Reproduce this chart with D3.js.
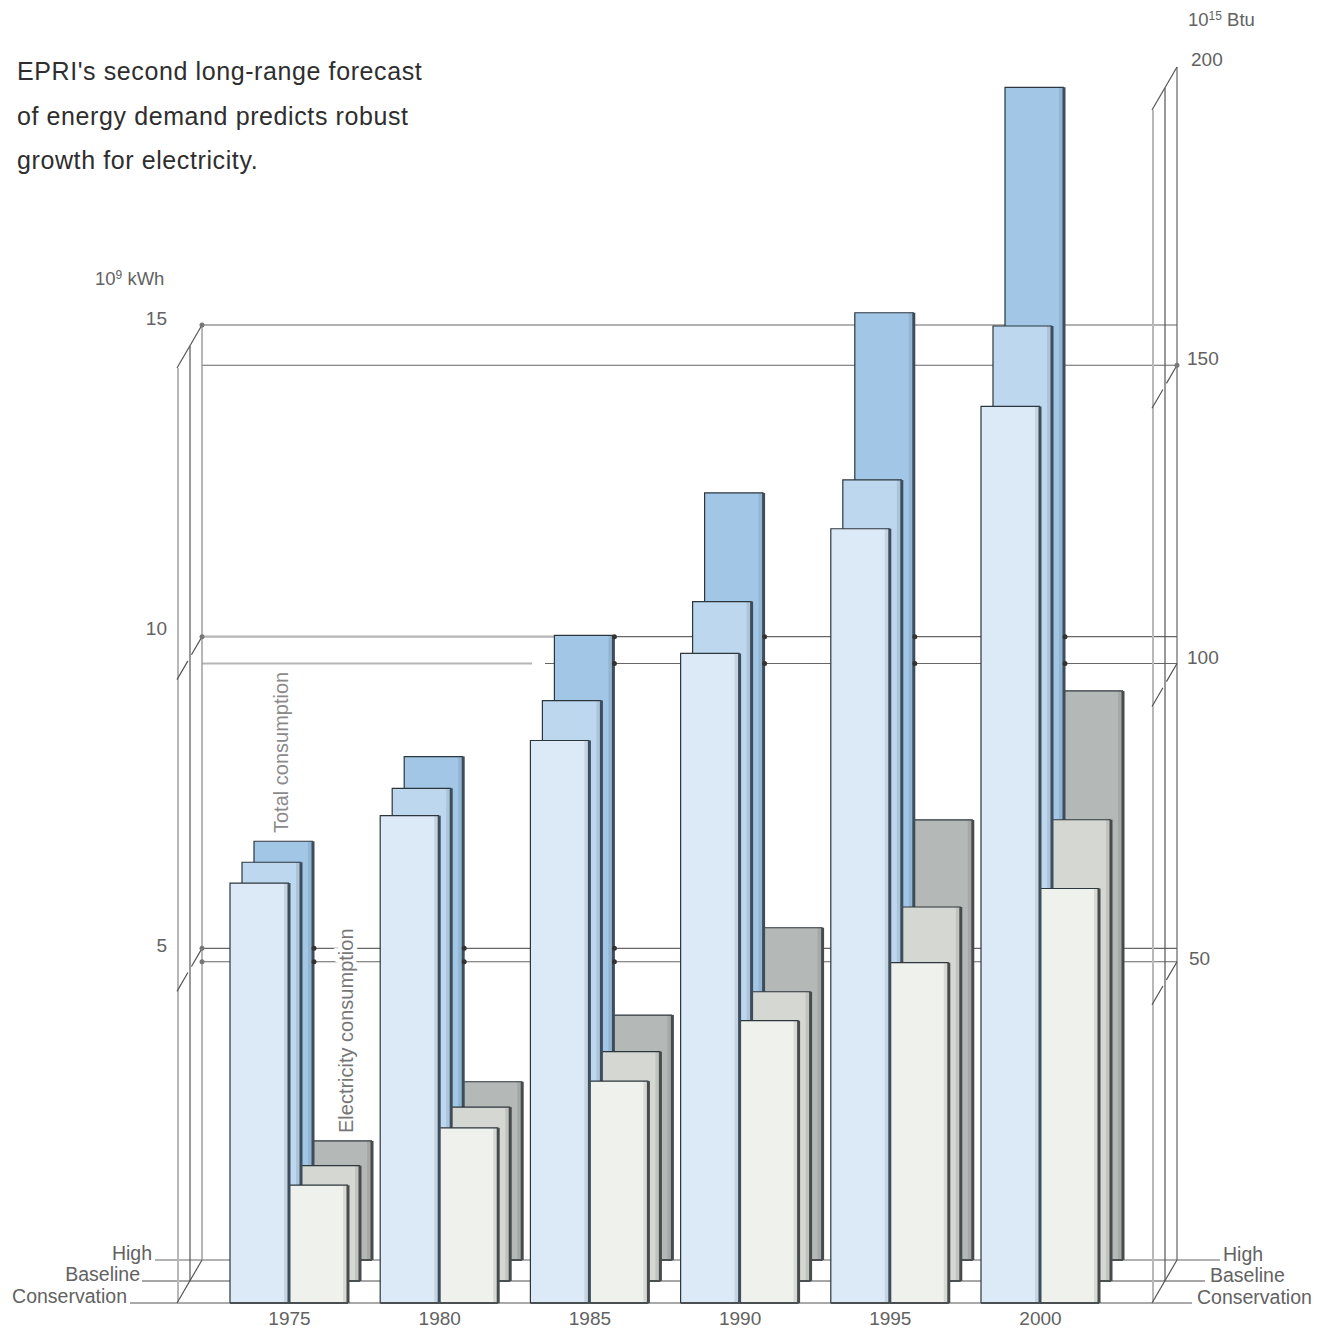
<!DOCTYPE html>
<html>
<head>
<meta charset="utf-8">
<script src="https://cdn.jsdelivr.net/npm/d3@7"></script>
<style>
  body { margin: 0; background: #fff; }
  text { font-family: "Liberation Sans", sans-serif; }
  .domain { display: none; }
</style>
</head>
<body>
<svg id="mainsvg" width="1330" height="1330"></svg>
<script>
// values
const years = ['1975', '1980', '1985', '1990', '1995', '2000'];
const scenarios = ['High', 'Baseline', 'Conservation'];

// total consumption, 10^15 Btu
const totalHigh = [70.2, 84.4, 104.7, 128.6, 158.8, 196.6];
const totalBaseline = [70.2, 82.6, 97.3, 113.9, 134.3, 160.1];
const totalConservation = [70.4, 81.7, 94.3, 108.9, 129.8, 150.3];

// electricity consumption, 10^9 kWh
const elecHigh = [1.91, 2.86, 3.93, 5.33, 7.06, 9.13];
const elecBaseline = [1.85, 2.79, 3.68, 4.64, 6.0, 7.4];
const elecConservation = [1.89, 2.81, 3.56, 4.53, 5.46, 6.65];

const kwhTicks = [5, 10, 15];
const btuTicks = [50, 100, 150, 200];

const titleLines = [
  "EPRI's second long-range forecast",
  'of energy demand predicts robust',
  'growth for electricity.',
];

const svg = d3.select('#mainsvg');

const barWidth = 59;
const floorY = 1260;
// each scenario sits on its own plane, shifted towards the viewer
const planes = [
  { dx: 0, dy: 0, total: totalHigh, elec: elecHigh, totalFill: '#a1c6e6', elecFill: '#b4b8b6', lineColor: '#999', lineWidth: 1.6, leftEnd: 155, rightEnd: 1220, labelLeft: 152, labelRight: 1223 },
  { dx: -12, dy: 21, total: totalBaseline, elec: elecBaseline, totalFill: '#bdd8ee', elecFill: '#d5d7d2', lineColor: '#888', lineWidth: 1.4, leftEnd: 142, rightEnd: 1205, labelLeft: 140, labelRight: 1210 },
  { dx: -24, dy: 43, total: totalConservation, elec: elecConservation, totalFill: '#dce9f6', elecFill: '#eff1ec', lineColor: '#555', lineWidth: 1.2, leftEnd: 130, rightEnd: 1192, labelLeft: 127, labelRight: 1197 },
];

const x = d3.scalePoint().domain(years).range([313, 1064]);
const yKwh = d3.scaleLinear().domain([0, 15]).range([floorY, 325]);
const yBtu = d3.scaleLinear().domain([0, 200]).range([floorY, 67]);

// grid lines on the back plane, axis frames left and right
const grid = svg.append('g').attr('id', 'grid');
const gridLeft = 202;
const gridRight = 1177;

function gridLine(y, x1, x2, color, width) {
  grid.append('line')
    .attr('x1', x1).attr('x2', x2)
    .attr('y1', y).attr('y2', y)
    .attr('stroke', color)
    .attr('stroke-width', width);
}

kwhTicks.forEach(v => {
  const y = yKwh(v);
  if (v === 10) {
    gridLine(y, gridLeft, 556, '#b5b5b5', 2.2);
    gridLine(y, 556, gridRight, '#666', 1.2);
  } else {
    gridLine(y, gridLeft, gridRight, '#666', 1.2);
  }
});
btuTicks.filter(v => v < 200).forEach(v => {
  const y = yBtu(v);
  if (v === 100) {
    gridLine(y, gridLeft, 532, '#b5b5b5', 2.2);
    gridLine(y, 545, gridRight, '#666', 1.2);
  } else {
    gridLine(y, gridLeft, gridRight, '#666', 1.2);
  }
});

// scenario base lines
planes.forEach(p => {
  gridLine(floorY + p.dy, p.leftEnd, p.rightEnd, p.lineColor, p.lineWidth);
});

// the three planes of both axis frames, back to front
function frame(backX, ticksY, topY, styles) {
  const f = svg.append('g');
  planes.forEach((p, i) => {
    f.append('line')
      .attr('x1', backX + p.dx).attr('x2', backX + p.dx)
      .attr('y1', topY + p.dy).attr('y2', floorY + p.dy)
      .attr('stroke', styles[i].color)
      .attr('stroke-width', styles[i].width);
  });
  ticksY.concat([floorY]).forEach(y => {
    f.append('line')
      .attr('x1', backX).attr('x2', backX - 25)
      .attr('y1', y).attr('y2', y + 43)
      .attr('stroke', '#555')
      .attr('stroke-width', 1.2)
      .attr('stroke-dasharray', y === topY || y === floorY ? null : '21 7 30');
  });
}
frame(gridLeft, kwhTicks.map(yKwh), yKwh(15), [
  { color: '#999', width: 1.4 }, { color: '#555', width: 1.2 }, { color: '#b8b8b8', width: 2 },
]);
frame(gridRight, btuTicks.map(yBtu), yBtu(200), [
  { color: '#666', width: 1.2 }, { color: '#555', width: 1.2 }, { color: '#b8b8b8', width: 2 },
]);

// bars, back plane first
const bars = svg.append('g').attr('id', 'bars');

function drawBar(left, top, bottom, fill, sideColor) {
  bars.append('rect')
    .attr('x', left).attr('y', top)
    .attr('width', barWidth).attr('height', bottom - top)
    .attr('fill', fill);
  // soft shading that the print leaves beside the right edge
  bars.append('line')
    .attr('x1', left + barWidth - 2).attr('x2', left + barWidth - 2)
    .attr('y1', top).attr('y2', bottom)
    .attr('stroke', sideColor)
    .attr('stroke-opacity', 0.14)
    .attr('stroke-width', 6);
  bars.append('path')
    .attr('d', `M${left},${bottom}V${top}H${left + barWidth}`)
    .attr('fill', 'none')
    .attr('stroke', '#2c363d')
    .attr('stroke-width', 1.2);
  bars.append('line')
    .attr('x1', left + barWidth).attr('x2', left + barWidth)
    .attr('y1', top).attr('y2', bottom)
    .attr('stroke', sideColor)
    .attr('stroke-width', 3);
  bars.append('line')
    .attr('x1', left).attr('x2', left + barWidth)
    .attr('y1', bottom).attr('y2', bottom)
    .attr('stroke', '#4a4f52')
    .attr('stroke-width', 2);
}

planes.forEach(p => {
  const bottom = floorY + p.dy;
  years.forEach((year, i) => {
    const split = x(year) + p.dx;
    drawBar(split, yKwh(p.elec[i]) + p.dy, bottom, p.elecFill, '#474b4b');
    drawBar(split - barWidth, yBtu(p.total[i]) + p.dy, bottom, p.totalFill, '#3d4d5c');
  });
});

// ink blobs where a lower grid line meets the right side of a high bar
const gridYs = [yKwh(5), yKwh(10), yBtu(50), yBtu(100)];
years.forEach((year, i) => {
  gridYs.forEach(y => {
    if (yBtu(totalHigh[i]) < y && yKwh(elecHigh[i]) > y) {
      svg.append('circle')
        .attr('cx', x(year) + 1).attr('cy', y).attr('r', 2.5)
        .attr('fill', '#333');
    }
  });
});
[yKwh(15), yKwh(10), yKwh(5), yBtu(50)].forEach(y => {
  svg.append('circle').attr('cx', gridLeft).attr('cy', y).attr('r', 2.5).attr('fill', '#777');
});
svg.append('circle').attr('cx', gridRight).attr('cy', yBtu(150)).attr('r', 2.5).attr('fill', '#777');

// axes
const tickColor = '#626262';
const tickNudge = { 5: 3, 10: -2, 15: -1, 50: 3, 150: -1, 200: -2 };
function styleAxis(g) {
  g.selectAll('.tick line').remove();
  g.selectAll('text')
    .attr('fill', tickColor)
    .attr('y', d => tickNudge[d] || 0)
    .style('font-size', '19px');
}

svg.append('g')
  .attr('transform', 'translate(167,-6)')
  .call(d3.axisLeft(yKwh).tickValues(kwhTicks).tickSize(0).tickPadding(0))
  .call(styleAxis);

svg.append('g')
  .attr('transform', 'translate(1187,-6)')
  .call(d3.axisRight(yBtu).tickValues(btuTicks).tickSize(0).tickPadding(0))
  .call(styleAxis)
  .call(g => g.selectAll('text').attr('x', d => (d === 200 ? 4 : d === 50 ? 2 : 0)));

svg.append('g')
  .attr('transform', 'translate(-24,1303)')
  .call(d3.axisBottom(x).tickSize(0).tickPadding(9))
  .call(g => {
    g.selectAll('.tick line').remove();
    g.selectAll('text').attr('fill', tickColor).style('font-size', '19px');
  });

// scenario labels either side
planes.forEach((p, i) => {
  svg.append('text')
    .attr('x', p.labelLeft).attr('y', floorY + p.dy)
    .attr('text-anchor', 'end')
    .attr('fill', tickColor)
    .style('font-size', '19.5px')
    .text(scenarios[i]);
  svg.append('text')
    .attr('x', p.labelRight).attr('y', floorY + p.dy + 1)
    .attr('fill', tickColor)
    .style('font-size', '19.5px')
    .text(scenarios[i]);
});

// units
function unitLabel(px, py, base, sup, unit) {
  const t = svg.append('text')
    .attr('x', px).attr('y', py)
    .attr('fill', tickColor)
    .style('font-size', '18.5px');
  t.append('tspan').text(base);
  t.append('tspan').attr('dy', -6).style('font-size', '12px').text(sup);
  t.append('tspan').attr('dy', 6).text(' ' + unit);
}
unitLabel(95, 285, '10', '9', 'kWh');
unitLabel(1188, 26, '10', '15', 'Btu');

// series labels, white halo breaks the grid lines behind them
svg.append('text')
  .attr('transform', 'translate(288,833) rotate(-90)')
  .attr('fill', '#8a8a8a')
  .style('font-size', '20px')
  .text('Total consumption');

svg.append('text')
  .attr('transform', 'translate(353,1133) rotate(-90)')
  .attr('fill', '#777')
  .attr('stroke', '#fff')
  .attr('stroke-width', 8)
  .attr('paint-order', 'stroke')
  .style('font-size', '20px')
  .text('Electricity consumption');

// headline
svg.append('g').selectAll('text')
  .data(titleLines)
  .join('text')
  .attr('x', 17)
  .attr('y', (d, i) => 80 + i * 44.5)
  .attr('fill', '#2e2e2e')
  .style('font-size', '25px')
  .style('letter-spacing', '0.6px')
  .text(d => d);
</script>
</body>
</html>
